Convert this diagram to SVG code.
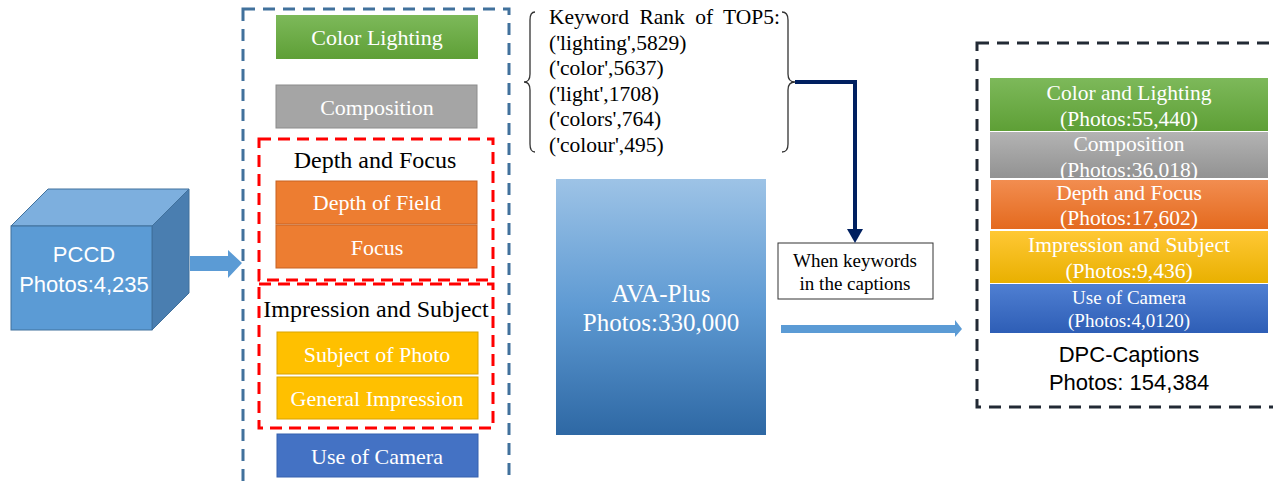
<svg xmlns="http://www.w3.org/2000/svg" width="1273" height="482" viewBox="0 0 1273 482">
<defs>
<linearGradient id="gGreen" x1="0" y1="0" x2="0" y2="1"><stop offset="0" stop-color="#7DB95A"/><stop offset="1" stop-color="#5E9F36"/></linearGradient>
<linearGradient id="gGray" x1="0" y1="0" x2="0" y2="1"><stop offset="0" stop-color="#B3B3B3"/><stop offset="1" stop-color="#929292"/></linearGradient>
<linearGradient id="gOrange" x1="0" y1="0" x2="0" y2="1"><stop offset="0" stop-color="#F28D50"/><stop offset="1" stop-color="#E46A1E"/></linearGradient>
<linearGradient id="gYellow" x1="0" y1="0" x2="0" y2="1"><stop offset="0" stop-color="#FFC835"/><stop offset="1" stop-color="#E9B000"/></linearGradient>
<linearGradient id="gBlue" x1="0" y1="0" x2="0" y2="1"><stop offset="0" stop-color="#4F7FD2"/><stop offset="1" stop-color="#2E5EB6"/></linearGradient>
<linearGradient id="gAva" x1="0" y1="0" x2="0" y2="1"><stop offset="0" stop-color="#9DC3E6"/><stop offset="0.5" stop-color="#5E9AD3"/><stop offset="1" stop-color="#2E68A4"/></linearGradient>
</defs>
<style>
.serif{font-family:"Liberation Serif","Times New Roman",serif;}
.sans{font-family:"Liberation Sans",Arial,sans-serif;}
.wt{fill:#FFFFFF;text-anchor:middle;}
.bk{fill:#000000;text-anchor:middle;}
.lbox{font-size:22px;}
.rbox{font-size:21.5px;}
.kw{font-size:21.5px;fill:#000000;}
.bluedash{fill:none;stroke:#41719C;stroke-width:3;stroke-dasharray:12 8;}
.reddash{fill:none;stroke:#FF0000;stroke-width:3;stroke-dasharray:12 7;}
.darkdash{fill:none;stroke:#222A35;stroke-width:3;stroke-dasharray:12 8;}
.brace{fill:none;stroke:#333333;stroke-width:1.3;}
</style>
<rect width="1273" height="482" fill="#FFFFFF"/>

<g id="pccd">
<polygon points="11,226 48,189 189,189 152,226" fill="#7DAFDE" stroke="#41719C" stroke-width="1"/>
<polygon points="152,226 189,189 189,293 152,330" fill="#4A7EB0" stroke="#41719C" stroke-width="1"/>
<rect x="11" y="226" width="141" height="104" fill="#5B9BD5" stroke="#41719C" stroke-width="1"/>
<text class="sans wt" x="84" y="262" font-size="22">PCCD</text>
<text class="sans wt" x="84" y="292" font-size="22">Photos:4,235</text>
</g>

<g id="pccd-categories">
<rect class="bluedash" x="243" y="9" width="266" height="480"/>
<g id="color-lighting">
<rect x="276" y="15" width="202" height="44" fill="url(#gGreen)"/>
<text class="serif wt lbox" x="377" y="45">Color Lighting</text>
</g>
<g id="composition">
<rect x="276" y="85" width="201" height="43" fill="#A5A5A5" stroke="#8C8C8C" stroke-width="1"/>
<text class="serif wt lbox" x="377" y="115">Composition</text>
</g>
<g id="depth-and-focus">
<rect class="reddash" x="259" y="139" width="234" height="141"/>
<text class="serif bk" x="375" y="168" font-size="24">Depth and Focus</text>
<rect x="276" y="181" width="201" height="43" fill="#ED7D31" stroke="#C86322" stroke-width="1"/>
<text class="serif wt lbox" x="377" y="210">Depth of Field</text>
<rect x="276" y="225" width="201" height="43" fill="#ED7D31" stroke="#C86322" stroke-width="1"/>
<text class="serif wt lbox" x="377" y="255">Focus</text>
</g>
<g id="impression-and-subject">
<rect class="reddash" x="259" y="284" width="234" height="144"/>
<text class="serif bk" x="376" y="317" font-size="24">Impression and Subject</text>
<rect x="277" y="332" width="201" height="42" fill="#FFC000" stroke="#D9A300" stroke-width="1"/>
<text class="serif wt lbox" x="377" y="362">Subject of Photo</text>
<rect x="277" y="377" width="201" height="42" fill="#FFC000" stroke="#D9A300" stroke-width="1"/>
<text class="serif wt lbox" x="377" y="406">General  Impression</text>
</g>
<g id="use-of-camera">
<rect x="277" y="434" width="201" height="43" fill="#4472C4" stroke="#3560AE" stroke-width="1"/>
<text class="serif wt lbox" x="377" y="464">Use of Camera</text>
</g>
</g>

<g id="keyword-rank">
<path class="brace" d="M535,12 Q530,12 530,20 L530,74 Q530,82 524,82 Q530,82 530,90 L530,144 Q530,152 535,152"/>
<path class="brace" d="M782,12 Q788,12 788,20 L788,74 Q788,82 795,82 Q788,82 788,90 L788,144 Q788,152 782,152"/>
<text class="serif kw" x="549" y="24" word-spacing="5">Keyword Rank of TOP5:</text>
<text class="serif kw" x="549" y="50">('lighting',5829)</text>
<text class="serif kw" x="549" y="75">('color',5637)</text>
<text class="serif kw" x="549" y="101">('light',1708)</text>
<text class="serif kw" x="549" y="126">('colors',764)</text>
<text class="serif kw" x="549" y="152">('colour',495)</text>
</g>

<g id="ava-plus">
<rect x="556" y="179" width="210" height="256" fill="url(#gAva)"/>
<text class="serif wt" x="661" y="302" font-size="25">AVA-Plus</text>
<text class="serif wt" x="661" y="331" font-size="25">Photos:330,000</text>
</g>

<g id="condition">
<rect x="778" y="243" width="155" height="56" fill="#FFFFFF" stroke="#333333" stroke-width="1"/>
<text class="serif bk" x="855" y="267" font-size="19">When keywords</text>
<text class="serif bk" x="855" y="290" font-size="19">in the captions</text>
</g>

<g id="dpc-captions">
<rect class="darkdash" x="977" y="43" width="310" height="364"/>
<g id="dpc-color">
<rect x="990" y="78" width="278" height="53" fill="url(#gGreen)"/>
<text class="serif wt rbox" x="1129" y="100">Color and Lighting</text>
<text class="serif wt rbox" x="1129" y="126">(Photos:55,440)</text>
</g>
<g id="dpc-composition">
<rect x="990" y="132" width="278" height="46" fill="url(#gGray)"/>
<text class="serif wt rbox" x="1129" y="151">Composition</text>
<text class="serif wt rbox" x="1129" y="177">(Photos:36,018)</text>
</g>
<g id="dpc-depth">
<rect x="991" y="180" width="277" height="49" fill="url(#gOrange)"/>
<text class="serif wt rbox" x="1129" y="200">Depth and Focus</text>
<text class="serif wt rbox" x="1129" y="225">(Photos:17,602)</text>
</g>
<g id="dpc-impression">
<rect x="990" y="231" width="278" height="52" fill="url(#gYellow)"/>
<text class="serif wt rbox" x="1129" y="252">Impression and Subject</text>
<text class="serif wt rbox" x="1129" y="278">(Photos:9,436)</text>
</g>
<g id="dpc-camera">
<rect x="990" y="284" width="278" height="49" fill="url(#gBlue)"/>
<text class="serif wt" x="1129" y="304" font-size="19">Use of Camera</text>
<text class="serif wt" x="1129" y="327" font-size="19">(Photos:4,0120)</text>
</g>
<text class="sans bk" x="1129" y="362" font-size="22">DPC-Captions</text>
<text class="sans bk" x="1129" y="390" font-size="22">Photos: 154,384</text>
</g>

<g id="connectors">
<polygon points="190,256 228,256 228,250 242,263 228,278 228,271 190,271" fill="#5B9BD5"/>
<polyline points="795,82 855,82 855,232" fill="none" stroke="#002060" stroke-width="4"/>
<polygon points="847,229 863,229 855,243" fill="#002060"/>
<polygon points="781,325 955,325 955,320 962,329 955,337 955,333 781,333" fill="#5B9BD5"/>
</g>
</svg>
